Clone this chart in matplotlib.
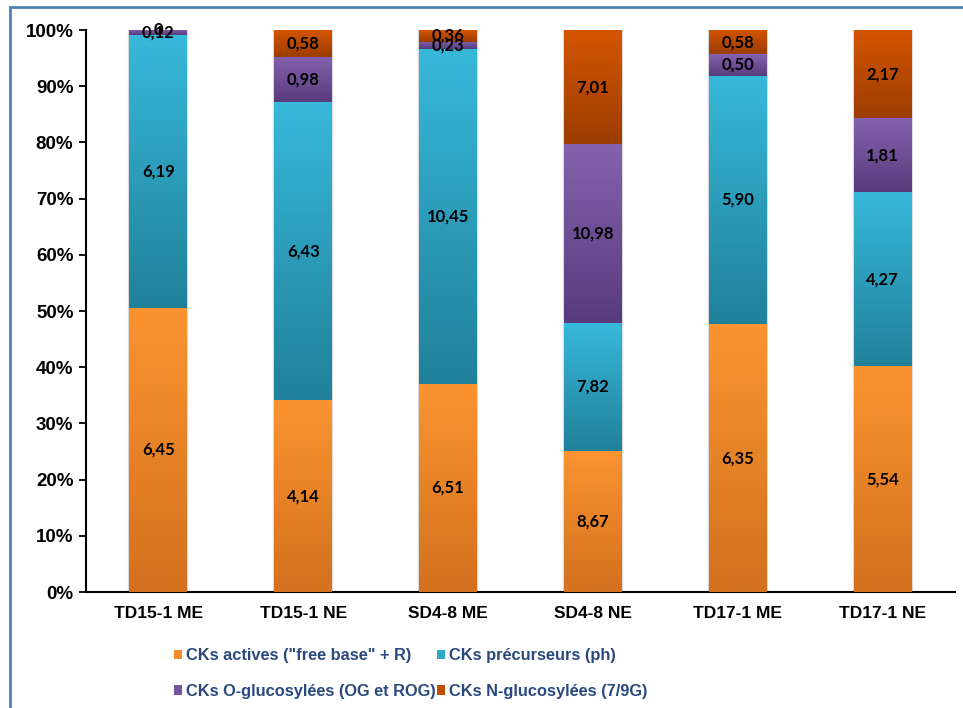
import numpy as np
import matplotlib
matplotlib.use("Agg")
import matplotlib.pyplot as plt
from matplotlib.colors import to_rgb
from matplotlib.patches import Rectangle, Patch
from matplotlib.ticker import FuncFormatter

# data (raw contents, bars are normalised to 100 %)
categories = ["TD15-1 ME", "TD15-1 NE", "SD4-8 ME", "SD4-8 NE", "TD17-1 ME", "TD17-1 NE"]
actives = [6.45, 4.14, 6.51, 8.67, 6.35, 5.54]
precurseurs = [6.19, 6.43, 10.45, 7.82, 5.90, 4.27]
o_gluco = [0.12, 0.98, 0.23, 10.98, 0.50, 1.81]
n_gluco = [0.0, 0.58, 0.36, 7.01, 0.58, 2.17]

series_names = ['CKs actives ("free base" + R)', "CKs précurseurs (ph)",
                "CKs O-glucosylées (OG et ROG)", "CKs N-glucosylées (7/9G)"]
# gradient colours (top, bottom) for each series
grads = [("#FB9430", "#D2711E"), ("#37B8DA", "#21819A"),
         ("#8462AE", "#573C7C"), ("#D45500", "#9C3D02")]
legend_cols = ["#F58A2A", "#2FA8C8", "#7554A0", "#C04E05"]


def fmt(v):
    if v == 0:
        return "0"
    return f"{v:.2f}".replace(".", ",")


fig = plt.figure(figsize=(9.63, 7.08), dpi=100)
ax = fig.add_axes([0.0893, 0.1638, 0.9024, 0.7938])

data = np.array([actives, precurseurs, o_gluco, n_gluco])
pct = data / data.sum(axis=0) * 100
x = np.arange(len(categories))
bottom = np.zeros(len(categories))

for s in range(4):
    bars = ax.bar(x, pct[s], 0.4, bottom=bottom, color=legend_cols[s],
                  edgecolor="#DADADA", linewidth=1.6, zorder=2)
    top_c, bot_c = np.array(to_rgb(grads[s][0])), np.array(to_rgb(grads[s][1]))
    t = np.linspace(0, 1, 64)[:, None, None]
    img = top_c * (1 - t) + bot_c * t
    for i, p in enumerate(bars):
        if pct[s][i] <= 0:
            continue
        x0, y0 = p.get_x(), p.get_y()
        w, h = p.get_width(), p.get_height()
        im = ax.imshow(img, extent=(x0, x0 + w, y0, y0 + h), aspect="auto",
                       origin="upper", zorder=3, interpolation="bilinear")
        im.set_clip_path(p)
    for i in range(len(categories)):
        yc = bottom[i] + pct[s][i] / 2
        ax.text(x[i], yc, fmt(data[s][i]), ha="center", va="center",
                fontsize=12, fontweight="bold", family="Lato", color="black",
                zorder=5)
    bottom += pct[s]

ax.set_xlim(-0.5, len(categories) - 0.5)
ax.set_ylim(0, 100)
ax.set_yticks(np.arange(0, 101, 10))
ax.yaxis.set_major_formatter(FuncFormatter(lambda v, _: f"{int(v)}%"))
ax.set_xticks(x)
ax.set_xticklabels(categories)
ax.tick_params(axis="x", length=0, pad=10)
ax.tick_params(axis="y", length=5, width=1.3, direction="out", pad=4)
for lab in ax.get_xticklabels():
    lab.set_fontfamily("Liberation Sans")
    lab.set_fontweight("bold")
    lab.set_fontsize(12.5)
for lab in ax.get_yticklabels():
    lab.set_fontfamily("Liberation Sans")
    lab.set_fontweight("bold")
    lab.set_fontsize(13.5)
for sp in ["top", "right"]:
    ax.spines[sp].set_visible(False)
for sp in ["left", "bottom"]:
    ax.spines[sp].set_linewidth(1.5)
    ax.spines[sp].set_color("black")

# legend fills column-wise, so reorder to get the reference row layout
order = [0, 2, 1, 3]
handles = [Patch(facecolor=legend_cols[k], edgecolor="none") for k in order]
leg = fig.legend(handles, [series_names[k] for k in order], loc="lower left", ncol=2,
                 bbox_to_anchor=(0.165, -0.008), frameon=False,
                 handlelength=0.5, handleheight=0.5, handletextpad=0.25,
                 columnspacing=0.05, labelspacing=1.25,
                 prop={"family": "Liberation Sans", "weight": "bold", "size": 11.8})
for txt in leg.get_texts():
    txt.set_color("#2A4A7E")

# blue outer frame (right/bottom sides are cut off in the original)
fig.add_artist(Rectangle((10 / 963, -0.1), 1.2, (1 - 7 / 708) + 0.1,
                         transform=fig.transFigure, fill=False,
                         edgecolor="#4F81BD", linewidth=2))

fig.savefig("out.png", dpi=100)
